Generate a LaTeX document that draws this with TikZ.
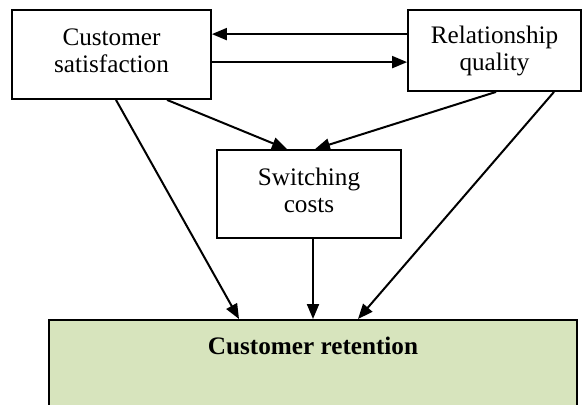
\documentclass[tikz,border=0pt]{standalone}
\usepackage{fontspec}
\setmainfont{Liberation Serif}
\usetikzlibrary{arrows.meta}
\definecolor{retgreen}{RGB}{215,228,189}

\begin{document}
\begin{tikzpicture}[
    x=0.5pt, y=-0.5pt,
    box/.style={rectangle, draw=black, line width=0.9pt, align=center, inner sep=0pt, font=\fontsize{12.6}{13.5}\selectfont},
    retbox/.style={box, fill=retgreen, font=\fontsize{12.6}{13.5}\selectfont\bfseries},
    arrow/.style={-{Triangle[length=7.5pt, width=6pt]}, line width=1pt}
]
    \clip (0,0) rectangle (582,404);

    \node[box, minimum width=99.5pt, minimum height=44.5pt] (satisfaction) at (111.5,54.5) {Customer\\satisfaction\strut};
    \node[box, minimum width=86.5pt, minimum height=40.5pt] (quality) at (494.5,50.5) {Relationship\\quality};
    \node[box, minimum width=92pt, minimum height=44pt] (switching) at (309,194) {Switching\\costs\strut};
    \node[retbox, minimum width=264pt, text height=14.5pt, text depth=35pt, inner ysep=3pt, anchor=north] (retention) at (313,319) {Customer retention};

    % between the two top boxes
    \draw[arrow] ([yshift=-12.5pt]quality.north west) -- ([yshift=-12.5pt]satisfaction.north east);
    \draw[arrow] ([yshift=-26.5pt]satisfaction.north east) -- ([yshift=-26.5pt]quality.north west);

    % into switching costs
    \draw[arrow] ([xshift=27.75pt]satisfaction.south) -- ([xshift=-11pt]switching.north);
    \draw[arrow] ([xshift=0.75pt]quality.south) -- ([xshift=3pt]switching.north);

    % into customer retention
    \draw[arrow] ([xshift=2.25pt]satisfaction.south) -- ([xshift=-37pt]retention.north);
    \draw[arrow] ([xshift=2pt]switching.south) -- (retention.north);
    \draw[arrow] ([xshift=29.75pt]quality.south) -- ([xshift=22.5pt]retention.north);
\end{tikzpicture}
\end{document}
